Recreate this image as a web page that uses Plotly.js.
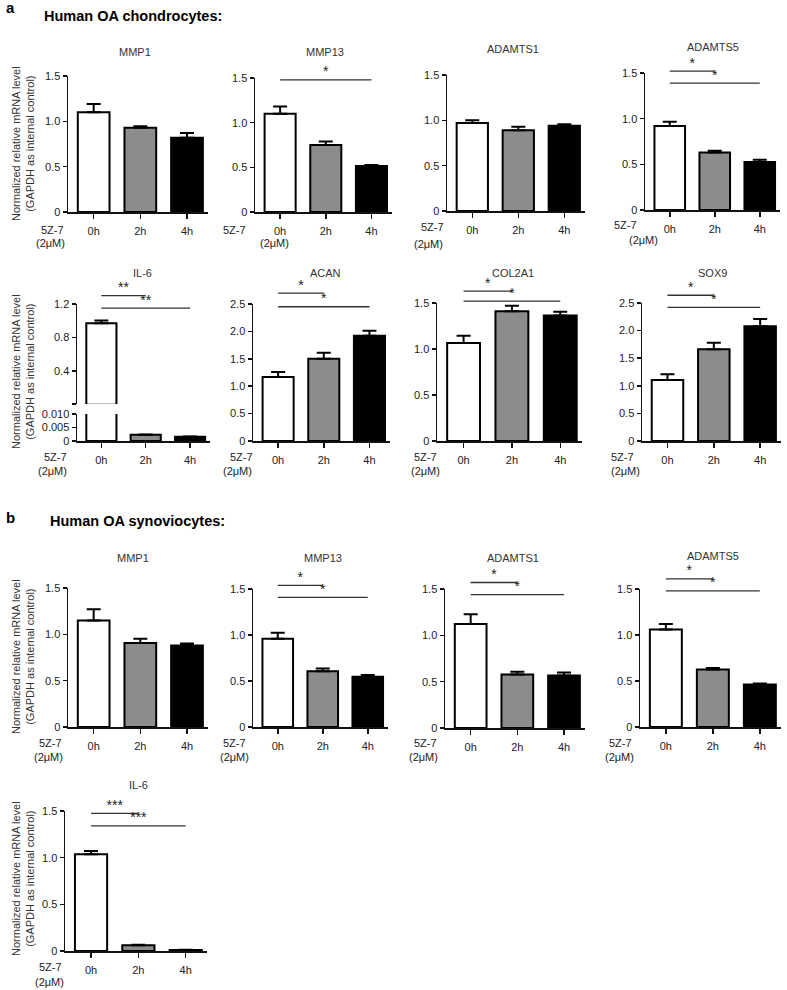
<!DOCTYPE html>
<html><head><meta charset="utf-8">
<script src="https://cdn.plot.ly/plotly-3.0.1.min.js"></script>
<style>html,body{margin:0;padding:0;background:#fff}#chart{width:787px;height:990px}</style>
</head><body><div id="chart"></div>
<script>
// ---------- DATA ----------
const timeLabels = ['0h', '2h', '4h'];
const barColors = ['#ffffff', '#8c8c8c', '#000000'];
const treatLabel = '5Z-7';
const doseLabel = '(2μM)';
const yTitle = 'Normalized relative mRNA level<br>(GAPDH as internal control)';

// a: Human OA chondrocytes
const chMMP1 = [1.10, 0.93, 0.82];      const chMMP1Err = [0.09, 0.015, 0.05];
const chMMP13 = [1.10, 0.75, 0.515];    const chMMP13Err = [0.08, 0.04, 0.012];
const chADAMTS1 = [0.97, 0.89, 0.94];   const chADAMTS1Err = [0.03, 0.04, 0.018];
const chADAMTS5 = [0.92, 0.63, 0.525];  const chADAMTS5Err = [0.045, 0.02, 0.025];
const chIL6 = [0.97, 0.0023, 0.0016];   const chIL6Err = [0.035, 0.0001, 0.0001];
const chACAN = [1.17, 1.50, 1.92];      const chACANErr = [0.09, 0.11, 0.09];
const chCOL2A1 = [1.065, 1.41, 1.365];  const chCOL2A1Err = [0.08, 0.06, 0.04];
const chSOX9 = [1.105, 1.66, 2.08];     const chSOX9Err = [0.105, 0.12, 0.13];

// b: Human OA synoviocytes
const syMMP1 = [1.15, 0.907, 0.88];     const syMMP1Err = [0.12, 0.045, 0.02];
const syMMP13 = [0.96, 0.607, 0.545];   const syMMP13Err = [0.065, 0.03, 0.02];
const syADAMTS1 = [1.123, 0.577, 0.566]; const syADAMTS1Err = [0.105, 0.03, 0.033];
const syADAMTS5 = [1.06, 0.625, 0.462]; const syADAMTS5Err = [0.06, 0.015, 0.011];
const syIL6 = [1.036, 0.061, 0.011];    const syIL6Err = [0.035, 0.007, 0.003];

// significance brackets: [fromIndex, toIndex, level, label]
const chMMP13Sig = [[0, 2, 1.48, '*']];
const chADAMTS5Sig = [[0, 1, 1.52, '*'], [0, 2, 1.39, '*']];
const chIL6Sig = [[0, 1, 1.30, '**'], [0, 2, 1.15, '**']];
const chACANSig = [[0, 1, 2.70, '*'], [0, 2, 2.45, '*']];
const chCOL2A1Sig = [[0, 1, 1.63, '*'], [0, 2, 1.52, '*']];
const chSOX9Sig = [[0, 1, 2.64, '*'], [0, 2, 2.42, '*']];
const syMMP13Sig = [[0, 1, 1.54, '*'], [0, 2, 1.41, '*']];
const syADAMTS1Sig = [[0, 1, 1.57, '*'], [0, 2, 1.44, '*']];
const syADAMTS5Sig = [[0, 1, 1.61, '*'], [0, 2, 1.48, '*']];
const syIL6Sig = [[0, 1, 1.475, '***'], [0, 2, 1.34, '***']];

// y tick sets
const ticks15 = [0, 0.5, 1, 1.5];   const ticks15Text = ['0', '0.5', '1.0', '1.5'];
const ticks25 = [0, 0.5, 1, 1.5, 2, 2.5]; const ticks25Text = ['0', '0.5', '1.0', '1.5', '2.0', '2.5'];
const ticksIL6Low = [0, 0.005, 0.01]; const ticksIL6LowText = ['0', '0.005', '0.010'];
const ticksIL6Up = [0.01, 0.4, 0.8, 1.2]; const ticksIL6UpText = ['', '0.4', '0.8', '1.2'];

// ---------- LAYOUT ----------
const W = 787, H = 990;
const FONT = 'Liberation Sans, Arial, Helvetica, sans-serif';
const layout = {
  width: W, height: H, margin: {l: 0, r: 0, t: 0, b: 0},
  paper_bgcolor: '#ffffff', plot_bgcolor: 'rgba(0,0,0,0)', showlegend: false,
  font: {family: FONT, size: 11, color: '#222'},
  annotations: [], shapes: []
};
const traces = [];
const axisCommon = {
  showline: true, linecolor: '#111', linewidth: 1.5, ticks: 'outside', tickwidth: 1.5,
  tickcolor: '#111', showgrid: false, zeroline: false, fixedrange: true,
  tickfont: {family: FONT, size: 11, color: '#222'}
};
function sfx(i) { return i === 1 ? '' : String(i); }
function ann(text, x, y, o) {
  layout.annotations.push(Object.assign({
    text: text, x: x / W, y: 1 - y / H, xref: 'paper', yref: 'paper', showarrow: false,
    xanchor: 'center', yanchor: 'middle', font: {family: FONT, size: 11, color: '#222'}
  }, o || {}));
}
let n = 0;
function barTrace(xid, yid, means, errs) {
  return {
    type: 'bar', x: [0, 1, 2], y: means, xaxis: xid, yaxis: yid, width: 0.68,
    marker: {color: barColors, line: {color: '#000', width: 2}},
    error_y: {type: 'data', symmetric: false, array: errs, arrayminus: [0, 0, 0],
              color: '#000', thickness: 2, width: 7},
    cliponaxis: true, hoverinfo: 'skip'
  };
}
// hidden y axis with the same scale as the visible one, but extending above it,
// so the significance brackets fall inside its range
function sigAxis(xid, range, b, t) {
  n++;
  const ext = 45;
  layout['yaxis' + sfx(n)] = {
    visible: false, showgrid: false, zeroline: false, fixedrange: true, anchor: xid,
    domain: [1 - b / H, 1 - (t - ext) / H],
    range: [range[0], range[0] + (range[1] - range[0]) * (b - t + ext) / (b - t)]
  };
  return 'y' + sfx(n);
}
function sigTraces(xid, yid, sig) {
  sig.forEach(s => {
    traces.push({type: 'scatter', mode: 'lines', x: [s[0], s[1]], y: [s[2], s[2]], xaxis: xid, yaxis: yid,
      line: {color: '#333', width: 1.3}, cliponaxis: false, hoverinfo: 'skip'});
    traces.push({type: 'scatter', mode: 'text', x: [(s[0] + s[1]) / 2], y: [s[2]], text: [s[3]],
      textposition: 'top center', textfont: {family: FONT, size: 14, color: '#222'},
      xaxis: xid, yaxis: yid, cliponaxis: false, hoverinfo: 'skip'});
  });
}
function addPanel(p) {
  n++;
  const i = n, xid = 'x' + sfx(i), yid = 'y' + sfx(i);
  const [l, r, b, t] = p.box;
  layout['xaxis' + sfx(i)] = Object.assign({}, axisCommon, {
    domain: [l / W, r / W], anchor: yid, range: [-0.55, 2.45],
    tickvals: [0, 1, 2], ticktext: timeLabels, ticklen: 5, ticklabelstandoff: 3
  });
  layout['yaxis' + sfx(i)] = Object.assign({}, axisCommon, {
    domain: [1 - b / H, 1 - t / H], anchor: xid, range: p.yrange,
    tickvals: p.tv, ticktext: p.tt, ticklen: 4
  });
  traces.push(barTrace(xid, yid, p.means, p.errs));
  if (p.upper) {
    n++;
    const uid = 'y' + sfx(n);
    layout['yaxis' + sfx(n)] = Object.assign({}, axisCommon, {
      domain: [1 - p.upper.b / H, 1 - p.upper.t / H], anchor: xid, range: p.upper.range,
      tickvals: p.upper.tv, ticktext: p.upper.tt, ticklen: 4
    });
    const upMeans = p.means.map(v => (v >= p.upper.range[0] ? v : null));
    traces.push(barTrace(xid, uid, upMeans, p.errs));
    if (p.sig) sigTraces(xid, sigAxis(xid, p.upper.range, p.upper.b, p.upper.t), p.sig);
  } else if (p.sig) {
    sigTraces(xid, sigAxis(xid, p.yrange, b, t), p.sig);
  }
  ann(p.title, p.titlePos[0], p.titlePos[1], {font: {family: FONT, size: 11, color: '#333'}});
  ann(treatLabel, p.treatPos[0], p.treatPos[1]);
  ann(doseLabel, p.dosePos[0], p.dosePos[1]);
}

// a, row 1
addPanel({box: [68, 208, 212, 76], yrange: [0, 1.5], tv: ticks15, tt: ticks15Text, means: chMMP1, errs: chMMP1Err,
  title: 'MMP1', titlePos: [135, 52], treatPos: [53, 230], dosePos: [50, 243]});
addPanel({box: [255, 392, 212, 78], yrange: [0, 1.5], tv: ticks15, tt: ticks15Text, means: chMMP13, errs: chMMP13Err, sig: chMMP13Sig,
  title: 'MMP13', titlePos: [325, 52], treatPos: [235, 230], dosePos: [274, 243]});
addPanel({box: [447, 585, 211, 75], yrange: [0, 1.5], tv: ticks15, tt: ticks15Text, means: chADAMTS1, errs: chADAMTS1Err,
  title: 'ADAMTS1', titlePos: [513, 49], treatPos: [432, 227], dosePos: [428, 244]});
addPanel({box: [645, 780, 210, 73], yrange: [0, 1.5], tv: ticks15, tt: ticks15Text, means: chADAMTS5, errs: chADAMTS5Err, sig: chADAMTS5Sig,
  title: 'ADAMTS5', titlePos: [713, 47], treatPos: [625, 225], dosePos: [643, 240]});
// a, row 2
addPanel({box: [77, 210, 441, 414], yrange: [0, 0.01], tv: ticksIL6Low, tt: ticksIL6LowText, means: chIL6, errs: chIL6Err, sig: chIL6Sig,
  upper: {b: 404, t: 304, range: [0.01, 1.2], tv: ticksIL6Up, tt: ticksIL6UpText},
  title: 'IL-6', titlePos: [142, 273], treatPos: [55, 457], dosePos: [52, 471]});
addPanel({box: [253, 390, 441, 304], yrange: [0, 2.5], tv: ticks25, tt: ticks25Text, means: chACAN, errs: chACANErr, sig: chACANSig,
  title: 'ACAN', titlePos: [325, 273], treatPos: [242, 457], dosePos: [237, 471]});
addPanel({box: [437, 582, 441, 303], yrange: [0, 1.5], tv: ticks15, tt: ticks15Text, means: chCOL2A1, errs: chCOL2A1Err, sig: chCOL2A1Sig,
  title: 'COL2A1', titlePos: [513, 273], treatPos: [425, 457], dosePos: [425, 471]});
addPanel({box: [642, 781, 441, 303], yrange: [0, 2.5], tv: ticks25, tt: ticks25Text, means: chSOX9, errs: chSOX9Err, sig: chSOX9Sig,
  title: 'SOX9', titlePos: [712, 273], treatPos: [622, 457], dosePos: [625, 471]});
// b, row 1
addPanel({box: [68, 208, 727, 588], yrange: [0, 1.5], tv: ticks15, tt: ticks15Text, means: syMMP1, errs: syMMP1Err,
  title: 'MMP1', titlePos: [133, 558], treatPos: [50, 743], dosePos: [48, 757]});
addPanel({box: [253, 388, 727, 589], yrange: [0, 1.5], tv: ticks15, tt: ticks15Text, means: syMMP13, errs: syMMP13Err, sig: syMMP13Sig,
  title: 'MMP13', titlePos: [323, 558], treatPos: [235, 743], dosePos: [235, 757]});
addPanel({box: [445, 585, 728, 589], yrange: [0, 1.5], tv: ticks15, tt: ticks15Text, means: syADAMTS1, errs: syADAMTS1Err, sig: syADAMTS1Sig,
  title: 'ADAMTS1', titlePos: [513, 558], treatPos: [425, 743], dosePos: [424, 757]});
addPanel({box: [640, 781, 727, 589], yrange: [0, 1.5], tv: ticks15, tt: ticks15Text, means: syADAMTS5, errs: syADAMTS5Err, sig: syADAMTS5Sig,
  title: 'ADAMTS5', titlePos: [713, 556], treatPos: [620, 743], dosePos: [619, 757]});
// b, row 2
addPanel({box: [65, 207, 951, 811], yrange: [0, 1.5], tv: ticks15, tt: ticks15Text, means: syIL6, errs: syIL6Err, sig: syIL6Sig,
  title: 'IL-6', titlePos: [138, 785], treatPos: [50, 967], dosePos: [49, 982]});

// y titles (first column of each row)
[144, 372, 657, 879].forEach(c => ann(yTitle, 23, c, {textangle: -90, font: {family: FONT, size: 11, color: '#333'}}));

// panel headings
ann('<b>a</b>', 4, 7, {xanchor: 'left', font: {family: FONT, size: 15, color: '#000'}});
ann('<b>Human OA chondrocytes:</b>', 42, 16, {xanchor: 'left', font: {family: FONT, size: 14.5, color: '#000'}});
ann('<b>b</b>', 4, 517, {xanchor: 'left', font: {family: FONT, size: 15, color: '#000'}});
ann('<b>Human OA synoviocytes:</b>', 48, 521, {xanchor: 'left', font: {family: FONT, size: 14.5, color: '#000'}});

Plotly.newPlot('chart', traces, layout, {displayModeBar: false, staticPlot: true});
</script>
</body></html>
